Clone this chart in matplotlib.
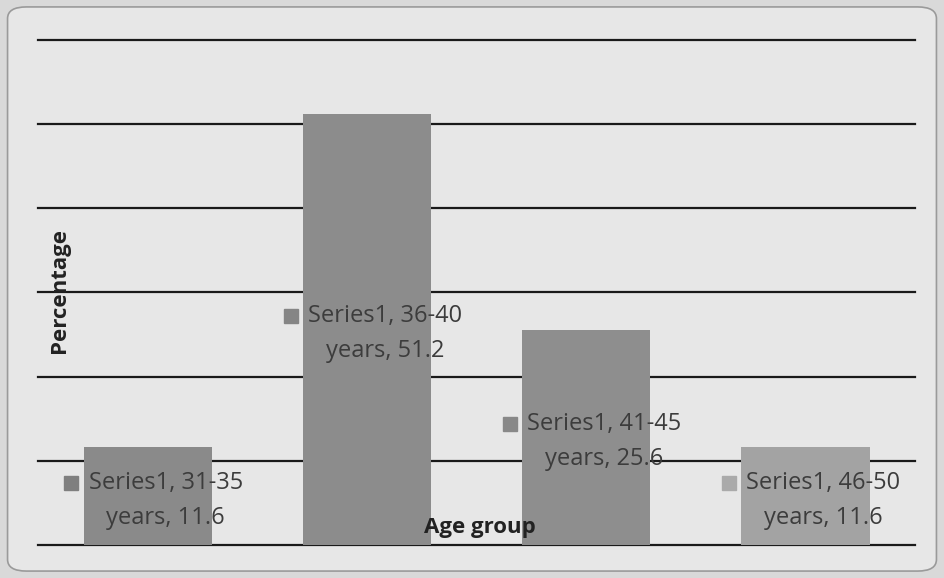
import matplotlib.pyplot as plt
import matplotlib.transforms as mtransforms
from matplotlib.patches import FancyBboxPatch

plt.rcParams['font.family'] = ['Open Sans', 'DejaVu Sans']

categories = ["31-35", "36-40", "41-45", "46-50"]
values = [11.6, 51.2, 25.6, 11.6]
series_name = "Series1"
bar_colors = ["#8a8a8a", "#8c8c8c", "#8e8e8e", "#a3a3a3"]
marker_colors = ["#7f7f7f", "#858585", "#888888", "#aaaaaa"]
y_ticks = [0, 10, 20, 30, 40, 50, 60]

fig = plt.figure(figsize=(9.44, 5.78), dpi=100)
fig.patch.set_facecolor("#d9d9d9")

# rounded chart frame, kept behind the axes
frame = FancyBboxPatch((0.008, 0.012), 0.984, 0.976,
                       boxstyle="round,pad=0,rounding_size=0.02",
                       transform=fig.transFigure, facecolor="#e7e7e7",
                       edgecolor="#9a9a9a", linewidth=1.2, zorder=-5)
fig.patches.append(frame)

ax = fig.add_axes([0.0403, 0.0571, 0.929, 0.8737])
ax.set_facecolor("none")
for sp in ax.spines.values():
    sp.set_visible(False)

for t in y_ticks:
    ax.axhline(t, color="#1a1a1a", linewidth=1.6, zorder=1, clip_on=False)

x = list(range(len(categories)))
ax.bar(x, values, width=0.585, color=bar_colors, zorder=2)

ax.set_xlim(-0.5, len(categories) - 0.5)
ax.set_ylim(0, 60)
ax.set_xticks([])
ax.set_yticks([])

# data labels: text centred a bit right of the bar centre, with legend key
for i, (c, v) in enumerate(zip(categories, values)):
    ax.annotate(f"{series_name}, {c}\nyears, {v}", xy=(i, v / 2),
                xytext=(13, -3), textcoords="offset points",
                ha="center", va="center", fontsize=17, color="#3c3c3c",
                linespacing=1.6, zorder=4)
    tr = mtransforms.offset_copy(ax.transData, fig=fig, x=-55, y=9.5, units="points")
    ax.plot([i], [v / 2], marker="s", markersize=10.5, color=marker_colors[i],
            transform=tr, zorder=4, clip_on=False)

ax.text(0.025, 30.2, "Percentage", rotation=90, ha="center", va="center",
        fontsize=16, fontweight="bold", color="#222222", zorder=5,
        transform=mtransforms.blended_transform_factory(ax.transAxes, ax.transData))
ax.text(1.516, 2.1, "Age group", ha="center", va="center",
        fontsize=16, fontweight="bold", color="#222222", zorder=5)

fig.savefig("out.png", dpi=100, facecolor=fig.get_facecolor())
